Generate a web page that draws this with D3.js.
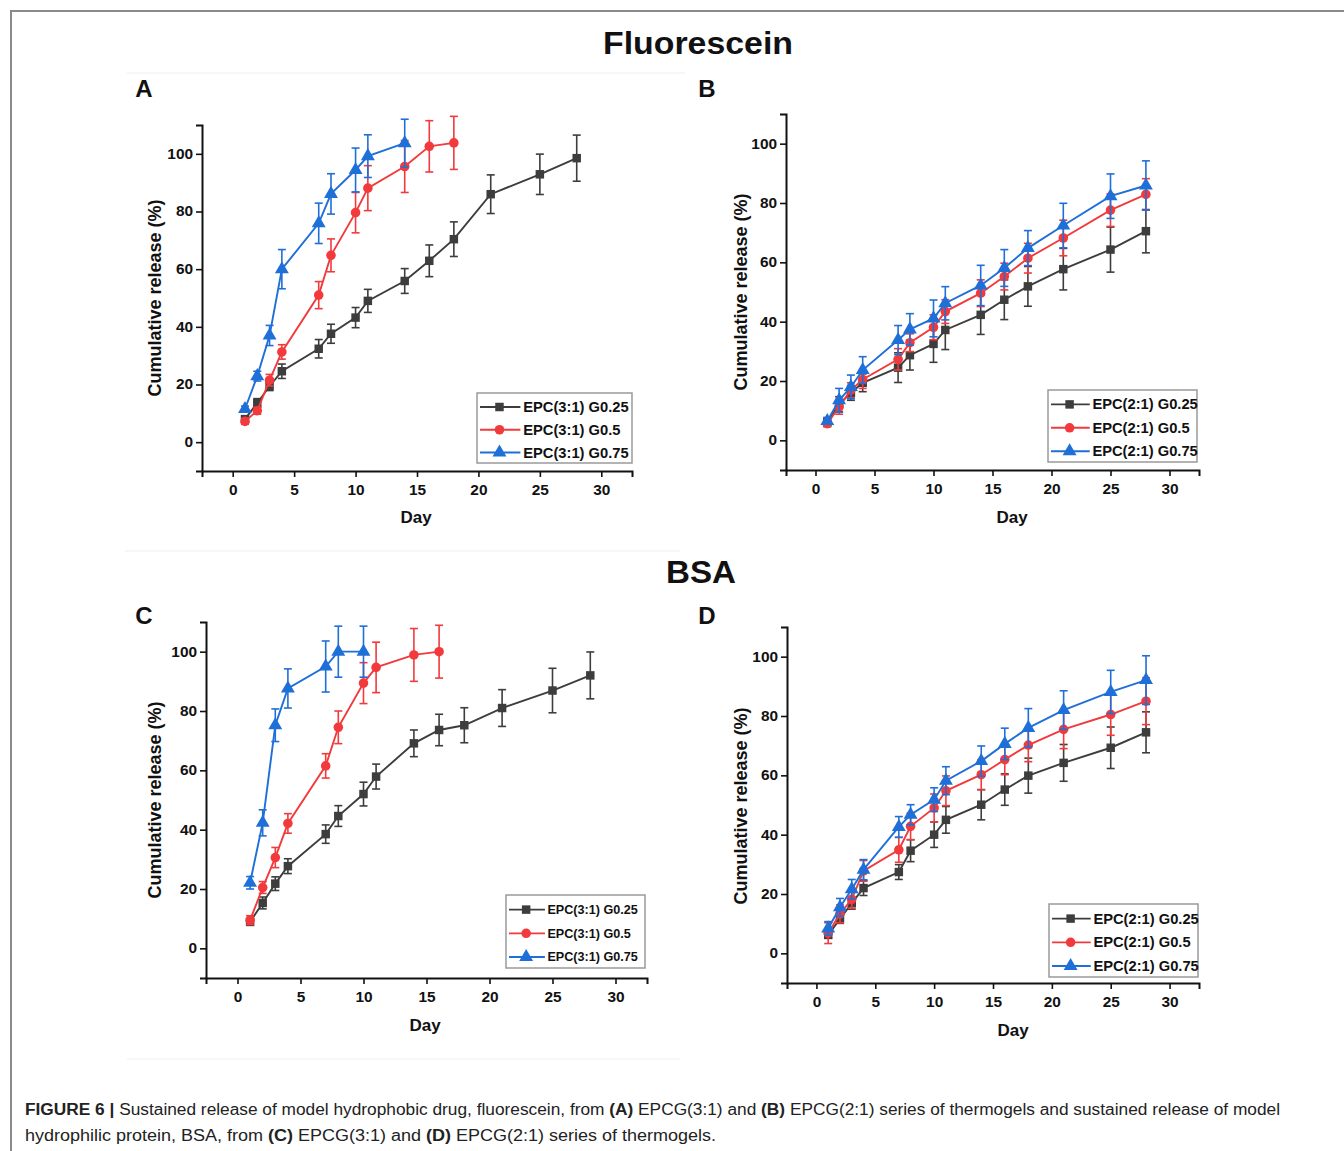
<!DOCTYPE html>
<html><head><meta charset="utf-8">
<script src="https://cdn.jsdelivr.net/npm/d3@7"></script>
<style>
html,body{margin:0;padding:0;background:#fff;}
svg{display:block;}
</style></head>
<body>
<svg id="c" width="1344" height="1151"></svg>
<script>
// ---------------- DATA ----------------
const days = [1,2,3,4,7,8,10,11,14,16,18,21,25,28];
const xTicks = [0,5,10,15,20,25,30];
const yTicks = [0,20,40,60,80,100];
const labels31 = ["EPC(3:1) G0.25","EPC(3:1) G0.5","EPC(3:1) G0.75"];
const labels21 = ["EPC(2:1) G0.25","EPC(2:1) G0.5","EPC(2:1) G0.75"];

// A: Fluorescein, EPCG(3:1)
const fluo31_G025 = [8.0,13.6,19.4,24.6,32.4,37.6,43.2,49.0,55.9,62.9,70.4,86.0,92.9,98.5];
const fluo31_G025_err = [1.0,1.5,1.5,2.5,3.2,3.3,3.5,4.0,4.3,5.5,6.0,6.7,7.0,8.0];
const fluo31_G05 = [7.2,10.9,21.5,31.3,51.0,64.8,79.6,88.1,95.6,102.6,103.8];
const fluo31_G05_err = [1.0,1.2,2.0,2.5,4.7,5.7,7.0,7.8,9.0,8.9,9.2];
const fluo31_G075 = [11.5,22.9,37.0,60.0,75.9,86.1,94.4,99.2,103.7];
const fluo31_G075_err = [1.0,1.7,3.5,6.8,7.0,7.0,7.6,7.4,8.3];

// B: Fluorescein, EPCG(2:1)
const fluo21_G025 = [6.2,12.2,16.0,19.4,24.5,28.7,32.5,37.2,42.3,47.4,51.9,57.7,64.3,70.5];
const fluo21_G025_err = [1.5,2.5,2.5,3.0,5.0,5.0,6.2,6.6,6.6,6.7,6.7,7.0,7.6,7.3];
const fluo21_G05 = [5.6,11.3,16.9,20.5,27.3,32.9,38.1,43.4,49.6,55.2,61.4,68.2,77.6,82.9];
const fluo21_G05_err = [1.0,2.5,2.5,3.0,3.6,3.0,4.2,4.0,4.5,4.5,5.0,6.0,5.5,5.3];
const fluo21_G075 = [6.5,13.5,18.0,23.7,33.8,37.4,41.1,46.2,52.2,58.1,64.8,72.4,82.3,85.9];
const fluo21_G075_err = [1.0,4.0,4.0,4.5,4.9,5.3,6.2,5.6,6.8,6.2,5.9,7.5,7.5,8.3];

// C: BSA, EPCG(3:1)
const bsa31_G025 = [8.9,15.3,21.8,27.7,38.5,44.6,52.0,57.9,69.1,73.6,75.2,81.0,86.9,92.0];
const bsa31_G025_err = [1.0,2.0,2.3,2.5,3.1,3.5,4.0,4.2,4.5,5.3,5.9,6.2,7.5,7.9];
const bsa31_G05 = [9.5,20.5,30.6,42.1,61.5,74.5,89.4,94.7,98.9,100.0];
const bsa31_G05_err = [1.5,2.0,3.4,3.3,4.1,5.5,6.9,8.5,8.9,8.9];
const bsa31_G075 = [22.1,42.3,75.2,87.6,95.0,100.0,100.0];
const bsa31_G075_err = [2.1,4.4,5.5,6.6,8.6,8.6,8.6];

// D: BSA, EPCG(2:1)
const bsa21_G025 = [6.2,11.6,16.9,22.0,27.4,34.6,40.0,45.0,50.1,55.2,59.9,64.2,69.3,74.5];
const bsa21_G025_err = [1.0,1.5,2.0,2.5,2.5,3.7,4.3,4.5,5.1,5.3,5.9,6.2,7.0,6.9];
const bsa21_G05 = [6.8,13.3,18.2,27.8,34.9,42.8,49.0,54.8,60.2,65.3,70.2,75.5,80.5,85.0];
const bsa21_G05_err = [3.5,3.0,3.0,3.5,4.2,4.5,4.7,5.0,5.1,5.1,5.6,6.5,7.0,7.9];
const bsa21_G075 = [8.4,15.5,21.6,28.2,42.6,46.7,51.8,58.2,64.8,70.6,76.0,82.0,88.1,92.1];
const bsa21_G075_err = [2.3,3.0,3.3,3.4,3.5,3.4,4.0,4.7,5.1,5.3,6.5,6.5,7.3,8.2];

// ---------------- STYLE / LAYOUT ----------------
const colors = ["#3d3d3d","#f23a3c","#1f6fd8"];
const symbols = [d3.symbolSquare, d3.symbolCircle, d3.symbolTriangle];
const symSizes = [72, 72, 84];
const FONT = "'Liberation Sans', Arial, Helvetica, sans-serif";
const STRETCH = 1.1;

const svg = d3.select("#c");
svg.append("rect").attr("width",1344).attr("height",1151).attr("fill","#fff");

// frame lines
svg.append("line").attr("x1",10).attr("x2",1344).attr("y1",11).attr("y2",11)
  .attr("stroke","#8a8a8a").attr("stroke-width",2);
svg.append("line").attr("x1",11).attr("x2",11).attr("y1",10).attr("y2",1151)
  .attr("stroke","#8a8a8a").attr("stroke-width",2);
// faint scan lines
[[127,685,73],[125,680,551],[127,680,1059]].forEach(([a,b,y])=>{
  svg.append("line").attr("x1",a).attr("x2",b).attr("y1",y).attr("y2",y)
    .attr("stroke","#f4f4f4").attr("stroke-width",1.5);
});

function stretch(sel, f){
  sel.each(function(){
    const len = this.getComputedTextLength();
    d3.select(this).attr("textLength", len*f).attr("lengthAdjust","spacingAndGlyphs");
  });
}

// headings
const t1 = svg.append("text").attr("x",698).attr("y",54).attr("text-anchor","middle")
  .attr("font-family",FONT).attr("font-weight","bold").attr("font-size",31).attr("fill","#111")
  .text("Fluorescein");
t1.attr("textLength",190).attr("lengthAdjust","spacingAndGlyphs");
const t2 = svg.append("text").attr("x",701).attr("y",583).attr("text-anchor","middle")
  .attr("font-family",FONT).attr("font-weight","bold").attr("font-size",31).attr("fill","#111")
  .text("BSA");
t2.attr("textLength",70).attr("lengthAdjust","spacingAndGlyphs");

const panels = [
  {letter:"A", lx:144, ly:97, x0:202, x1:632, y0:471, y1:125,
   series:[[fluo31_G025,fluo31_G025_err],[fluo31_G05,fluo31_G05_err],[fluo31_G075,fluo31_G075_err]],
   labels:labels31, leg:{x:477,y:393,w:155,h:70,fs:14}, ytx:155, yty:298, dayx:416, dayy:523},
  {letter:"B", lx:707, ly:97, x0:786, x1:1199, y0:470, y1:114,
   series:[[fluo21_G025,fluo21_G025_err],[fluo21_G05,fluo21_G05_err],[fluo21_G075,fluo21_G075_err]],
   labels:labels21, leg:{x:1048,y:390,w:149,h:72,fs:14}, ytx:741, yty:292, dayx:1012, dayy:523},
  {letter:"C", lx:144, ly:624, x0:206, x1:647, y0:978, y1:622,
   series:[[bsa31_G025,bsa31_G025_err],[bsa31_G05,bsa31_G05_err],[bsa31_G075,bsa31_G075_err]],
   labels:labels31, leg:{x:506,y:895,w:139,h:73,fs:12}, ytx:155, yty:800, dayx:425, dayy:1031},
  {letter:"D", lx:707, ly:624, x0:787, x1:1199, y0:983, y1:627,
   series:[[bsa21_G025,bsa21_G025_err],[bsa21_G05,bsa21_G05_err],[bsa21_G075,bsa21_G075_err]],
   labels:labels21, leg:{x:1049,y:904,w:149,h:73,fs:14}, ytx:741, yty:806, dayx:1013, dayy:1036}
];

panels.forEach(p=>{
  const g = svg.append("g");
  const x = d3.scaleLinear().domain([-2.5,32.5]).range([p.x0,p.x1]);
  const y = d3.scaleLinear().domain([-10,110]).range([p.y0,p.y1]);

  // panel letter
  g.append("text").attr("x",p.lx).attr("y",p.ly).attr("text-anchor","middle")
    .attr("font-family",FONT).attr("font-weight","bold").attr("font-size",24).attr("fill","#111")
    .text(p.letter);

  // ticks
  const xMinor = d3.range(-2.5,33,5);
  const yMinor = d3.range(-10,111,20);
  const gx = g.append("g").attr("transform",`translate(0,${p.y0})`);
  gx.call(d3.axisBottom(x).tickValues(xMinor).tickSize(3.5).tickFormat(""));
  gx.call(d3.axisBottom(x).tickValues(xTicks).tickSize(6).tickPadding(8).tickFormat(d3.format("d")));
  const gy = g.append("g").attr("transform",`translate(${p.x0},0)`);
  gy.call(d3.axisLeft(y).tickValues(yMinor).tickSize(3.5).tickFormat(""));
  gy.call(d3.axisLeft(y).tickValues(yTicks).tickSize(6).tickPadding(3).tickFormat(d3.format("d")));
  [gx,gy].forEach(a=>{
    a.selectAll(".domain").attr("stroke","#111").attr("stroke-width",2);
    a.selectAll(".tick line").attr("stroke","#111").attr("stroke-width",1.6);
    a.selectAll("text").attr("font-family",FONT).attr("font-weight","bold")
      .attr("font-size",14).attr("fill","#111");
  });
  stretch(gx.selectAll("text"), STRETCH);
  stretch(gy.selectAll("text"), STRETCH);

  // axis titles
  g.append("text").attr("transform",`translate(${p.ytx},${p.yty}) rotate(-90)`)
    .attr("text-anchor","middle").attr("dy","0.35em")
    .attr("font-family",FONT).attr("font-weight","bold").attr("font-size",18).attr("fill","#111")
    .text("Cumulative release (%)");
  g.append("text").attr("x",p.dayx).attr("y",p.dayy).attr("text-anchor","middle")
    .attr("font-family",FONT).attr("font-weight","bold").attr("font-size",17).attr("fill","#111")
    .text("Day");

  // series
  p.series.forEach(([vals,errs],si)=>{
    const pts = vals.map((v,i)=>({d:days[i], v, e:errs[i]}));
    const c = colors[si];
    const sg = g.append("g");
    const eb = sg.selectAll("g.eb").data(pts).join("g");
    eb.append("line").attr("x1",d=>x(d.d)).attr("x2",d=>x(d.d))
      .attr("y1",d=>y(d.v-d.e)).attr("y2",d=>y(d.v+d.e))
      .attr("stroke",c).attr("stroke-width",1.6);
    [-1,1].forEach(s=>{
      eb.append("line").attr("x1",d=>x(d.d)-4).attr("x2",d=>x(d.d)+4)
        .attr("y1",d=>y(d.v+s*d.e)).attr("y2",d=>y(d.v+s*d.e))
        .attr("stroke",c).attr("stroke-width",1.6);
    });
    sg.append("path").datum(pts)
      .attr("d",d3.line().x(d=>x(d.d)).y(d=>y(d.v)))
      .attr("fill","none").attr("stroke",c).attr("stroke-width",1.9);
    sg.selectAll("path.m").data(pts).join("path").attr("class","m")
      .attr("transform",d=>`translate(${x(d.d)},${y(d.v)})`)
      .attr("d",d3.symbol().type(symbols[si]).size(symSizes[si]))
      .attr("fill",c);
  });

  // legend
  const L = p.leg;
  const lg = g.append("g").attr("transform",`translate(${L.x},${L.y})`);
  lg.append("rect").attr("width",L.w).attr("height",L.h).attr("fill","#fff")
    .attr("stroke","#9a9a9a").attr("stroke-width",1.5);
  p.labels.forEach((lab,i)=>{
    const ry = L.h*0.2 + i*L.h*0.325;
    lg.append("line").attr("x1",3).attr("x2",L.w*0.28).attr("y1",ry).attr("y2",ry)
      .attr("stroke",colors[i]).attr("stroke-width",1.9);
    lg.append("path").attr("transform",`translate(${L.w*0.145},${ry})`)
      .attr("d",d3.symbol().type(symbols[i]).size(symSizes[i])).attr("fill",colors[i]);
    const tx = lg.append("text").attr("x",L.w*0.298).attr("y",ry).attr("dy","0.36em")
      .attr("font-family",FONT).attr("font-weight","bold").attr("font-size",L.fs).attr("fill","#111")
      .text(lab);
    stretch(tx, 1.05);
  });
});

// caption
const cap = svg.append("g").attr("font-family","'Liberation Sans Narrow','Arial Narrow','Liberation Sans',Arial,sans-serif")
  .attr("font-size",16).attr("fill","#222");
const line1 = [["FIGURE 6 ","bold"],["| ","bold"],["Sustained release of model hydrophobic drug, fluorescein, from ","normal"],
  ["(A)","bold"],[" EPCG(3:1) and ","normal"],["(B)","bold"],[" EPCG(2:1) series of thermogels and sustained release of model","normal"]];
const line2 = [["hydrophilic protein, BSA, from ","normal"],["(C)","bold"],[" EPCG(3:1) and ","normal"],["(D)","bold"],
  [" EPCG(2:1) series of thermogels.","normal"]];
[[line1,1115,1255],[line2,1141,691]].forEach(([parts,yy,len])=>{
  const t = cap.append("text").attr("x",25).attr("y",yy);
  parts.forEach(([s,w])=>t.append("tspan").attr("font-weight",w).text(s));
  t.attr("textLength",len).attr("lengthAdjust","spacingAndGlyphs");
});
</script>
</body></html>
